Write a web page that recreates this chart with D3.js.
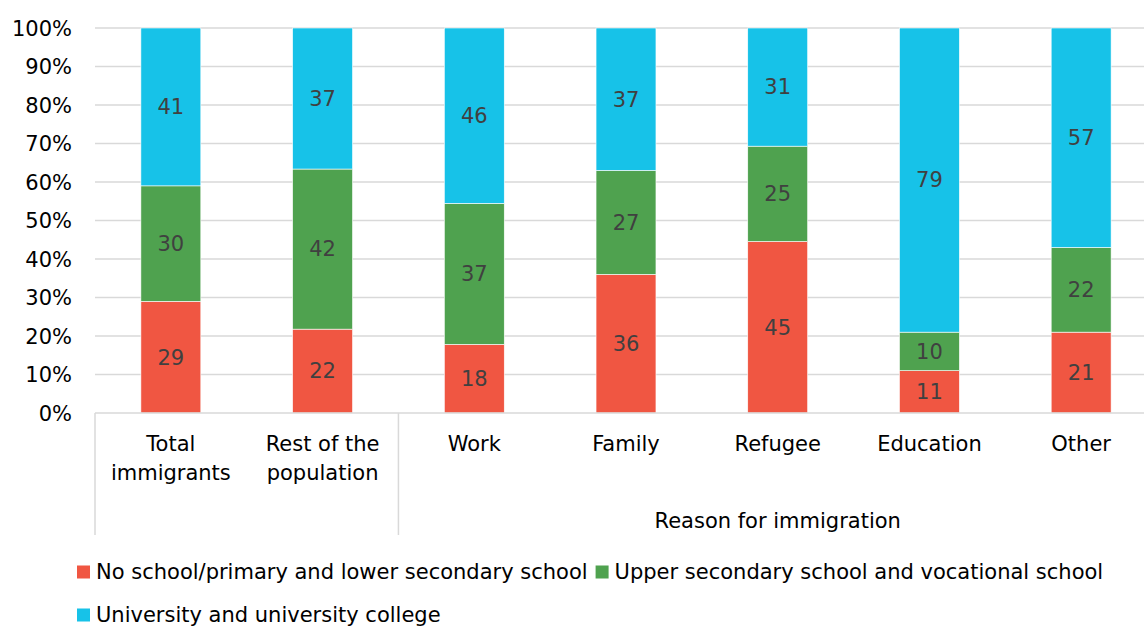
<!DOCTYPE html>
<html>
<head>
<meta charset="utf-8">
<script src="https://cdn.jsdelivr.net/npm/d3@7"></script>
<style>
  html, body { margin: 0; padding: 0; background: #fff; }
  svg { display: block; font-family: "DejaVu Sans", Verdana, sans-serif; }
</style>
</head>
<body>
<svg id="chart" width="1144" height="628"></svg>
<script>
// Educational attainment by reason for immigration (percent)
const categories = ["Total immigrants", "Rest of the population", "Work", "Family", "Refugee", "Education", "Other"];
const categoryLines = [["Total", "immigrants"], ["Rest of the", "population"], ["Work"], ["Family"], ["Refugee"], ["Education"], ["Other"]];
const groupLabel = "Reason for immigration";
const groupStart = "Work";

const seriesNames = [
  "No school/primary and lower secondary school",
  "Upper secondary school and vocational school",
  "University and university college"
];
const noSchool       = [29, 22, 18, 36, 45, 11, 21];
const upperSecondary = [30, 42, 37, 27, 25, 10, 22];
const university     = [41, 37, 46, 37, 31, 79, 57];
const yTicks = [0, 0.1, 0.2, 0.3, 0.4, 0.5, 0.6, 0.7, 0.8, 0.9, 1.0];

const colors = ["#F05642", "#4FA24F", "#17C2E8"];
const seriesValues = [noSchool, upperSecondary, university];

const rows = categories.map((c, i) => {
  const r = { category: c };
  seriesNames.forEach((s, j) => { r[s] = seriesValues[j][i]; });
  return r;
});

const svg = d3.select("#chart");
const W = 1144;
const FS = 21;
const plot = { left: 95, right: 1157, top: 28, bottom: 413 };

const x = d3.scaleBand().domain(categories).range([plot.left, plot.right]).padding(0);
const barW = x.bandwidth() * 0.395;
const y = d3.scaleLinear().domain([0, 1]).range([plot.bottom, plot.top]);

const stack = d3.stack().keys(seriesNames).offset(d3.stackOffsetExpand);
const layers = stack(rows);

const gridColor = "#D9D9D9";

// horizontal gridlines
svg.append("g")
  .selectAll("line")
  .data(yTicks.filter(t => t > 0))
  .join("line")
  .attr("x1", plot.left).attr("x2", W)
  .attr("y1", d => y(d)).attr("y2", d => y(d))
  .attr("stroke", gridColor).attr("stroke-width", 1.3);

// y tick labels
const yAxis = d3.axisLeft(y).tickValues(yTicks).tickFormat(d3.format(".0%")).tickSize(0).tickPadding(0);
const gy = svg.append("g").attr("transform", "translate(72,0)").call(yAxis);
gy.select(".domain").remove();
gy.selectAll("text")
  .attr("font-size", FS)
  .attr("font-family", "DejaVu Sans, Verdana, sans-serif")
  .attr("fill", "#000")
  .attr("dy", "0.35em");

// stacked bars
const layerG = svg.append("g")
  .selectAll("g")
  .data(layers)
  .join("g")
  .attr("fill", (d, i) => colors[i]);

layerG.selectAll("rect")
  .data(d => d)
  .join("rect")
  .attr("x", d => x(d.data.category) + (x.bandwidth() - barW) / 2)
  .attr("width", barW)
  .attr("y", d => y(d[1]))
  .attr("height", d => y(d[0]) - y(d[1]))
  .attr("stroke", "#fff")
  .attr("stroke-width", 0.6);

// value labels
layers.forEach((layer, i) => {
  svg.append("g")
    .selectAll("text")
    .data(layer)
    .join("text")
    .attr("x", d => x(d.data.category) + x.bandwidth() / 2)
    .attr("y", d => (y(d[0]) + y(d[1])) / 2)
    .attr("dy", "0.35em")
    .attr("text-anchor", "middle")
    .attr("font-size", FS)
    .attr("fill", "#404040")
    .text(d => d.data[layer.key]);
});

// category axis
const axisG = svg.append("g");
axisG.append("line")
  .attr("x1", plot.left).attr("x2", W)
  .attr("y1", plot.bottom).attr("y2", plot.bottom)
  .attr("stroke", gridColor).attr("stroke-width", 1.5);
[plot.left, x(groupStart)].forEach(px => {
  axisG.append("line")
    .attr("x1", px).attr("x2", px)
    .attr("y1", plot.bottom).attr("y2", 535)
    .attr("stroke", gridColor).attr("stroke-width", 1.5);
});

const catText = axisG.selectAll("text.cat")
  .data(categories)
  .join("text")
  .attr("class", "cat")
  .attr("text-anchor", "middle")
  .attr("font-size", FS)
  .attr("fill", "#000");
catText.each(function(c, i) {
  const t = d3.select(this);
  categoryLines[i].forEach((line, k) => {
    t.append("tspan")
      .attr("x", x(c) + x.bandwidth() / 2)
      .attr("y", 444 + k * 29)
      .attr("dy", "0.35em")
      .text(line);
  });
});

axisG.append("text")
  .attr("x", (x(groupStart) + plot.right) / 2)
  .attr("y", 521)
  .attr("dy", "0.35em")
  .attr("text-anchor", "middle")
  .attr("font-size", FS)
  .attr("fill", "#000")
  .text(groupLabel);

// legend
const legend = svg.append("g");
const legendRows = [[0, 1], [2]];
legendRows.forEach((items, r) => {
  let lx = 77;
  const ly = 572 + r * 43;
  items.forEach(si => {
    legend.append("rect")
      .attr("x", lx).attr("y", ly - 6.5)
      .attr("width", 13).attr("height", 13)
      .attr("fill", colors[si]);
    const txt = legend.append("text")
      .attr("x", lx + 19).attr("y", ly)
      .attr("dy", "0.35em")
      .attr("font-size", FS)
      .attr("fill", "#000")
      .text(seriesNames[si]);
    lx += 19 + txt.node().getComputedTextLength() + 8;
  });
});
</script>
</body>
</html>
